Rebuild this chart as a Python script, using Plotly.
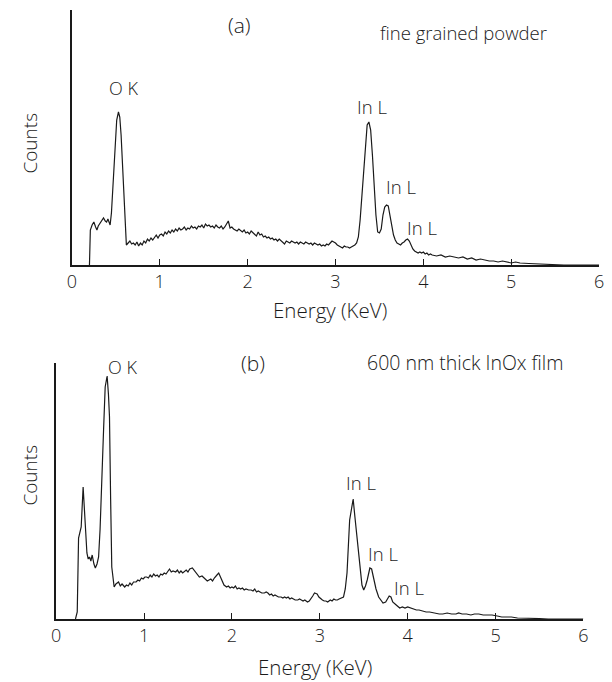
import plotly.graph_objects as go

# EDX spectra (arbitrary count units)
energy_a = [0.20, 0.21, 0.23, 0.25, 0.27, 0.285, 0.30, 0.32, 0.34, 0.36, 0.38, 0.395, 0.41, 0.435,
            0.45, 0.47, 0.49, 0.51, 0.53, 0.545, 0.56, 0.575, 0.59, 0.605, 0.62, 0.64, 0.66, 0.68,
            0.70, 0.72, 0.74, 0.76, 0.78, 0.80, 0.82, 0.84, 0.86, 0.88, 0.90, 0.92, 0.94, 0.96,
            0.98, 1.00, 1.02, 1.04, 1.06, 1.08, 1.10, 1.12, 1.14, 1.16, 1.18, 1.20, 1.22, 1.24,
            1.26, 1.28, 1.30, 1.32, 1.34, 1.36, 1.38, 1.40, 1.42, 1.44, 1.46, 1.48, 1.50, 1.52,
            1.54, 1.56, 1.58, 1.60, 1.62, 1.64, 1.66, 1.68, 1.70, 1.72, 1.74, 1.76, 1.78, 1.80,
            1.82, 1.84, 1.86, 1.88, 1.90, 1.92, 1.94, 1.96, 1.98, 2.00, 2.02, 2.04, 2.06, 2.08,
            2.10, 2.12, 2.14, 2.16, 2.18, 2.20, 2.22, 2.24, 2.26, 2.28, 2.30, 2.32, 2.34, 2.36,
            2.38, 2.40, 2.42, 2.44, 2.46, 2.48, 2.50, 2.52, 2.54, 2.56, 2.58, 2.60, 2.62, 2.64,
            2.66, 2.68, 2.70, 2.72, 2.74, 2.76, 2.78, 2.80, 2.82, 2.84, 2.86, 2.88, 2.90, 2.92,
            2.94, 2.96, 2.98, 3.00, 3.02, 3.04, 3.06, 3.08, 3.10, 3.12, 3.14, 3.16, 3.18, 3.20,
            3.22, 3.24, 3.26, 3.28, 3.30, 3.32, 3.34, 3.36, 3.38, 3.40, 3.42, 3.44, 3.46, 3.48,
            3.50, 3.52, 3.54, 3.56, 3.58, 3.60, 3.62, 3.64, 3.66, 3.68, 3.70, 3.72, 3.74, 3.76,
            3.78, 3.80, 3.82, 3.84, 3.86, 3.88, 3.90, 3.92, 3.94, 3.96, 3.98, 4.00, 4.02, 4.04,
            4.06, 4.08, 4.10, 4.15, 4.20, 4.25, 4.30, 4.35, 4.40, 4.45, 4.50, 4.55, 4.60, 4.65,
            4.70, 4.75, 4.80, 4.85, 4.90, 4.95, 5.00, 5.05, 5.10, 5.20, 5.30, 5.40, 5.50, 5.60,
            6.00]
counts_a = [0, 35, 40, 43, 38, 35, 39, 42, 45, 47, 44, 43, 46, 40,
            52, 80, 110, 145, 153, 148, 130, 100, 65, 35, 20, 22, 24, 21,
            22, 20, 23, 19, 22, 20, 24, 22, 26, 24, 27, 25, 28, 30,
            27, 30, 31, 29, 33, 31, 34, 32, 35, 33, 36, 34, 37, 35,
            36, 38, 35, 37, 36, 39, 37, 38, 36, 39, 38, 40, 37, 41,
            39, 40, 38, 39, 37, 40, 38, 37, 39, 36, 38, 41, 44, 37,
            38, 36, 35, 34, 36, 34, 33, 35, 32, 33, 31, 34, 32, 30,
            29, 33, 30, 31, 28, 29, 27, 28, 26, 27, 25, 26, 24, 26,
            24, 22, 21, 24, 23, 22, 24, 23, 22, 23, 21, 23, 22, 21,
            23, 22, 21, 22, 20, 22, 21, 20, 21, 19, 20, 19, 21, 20,
            22, 24, 23, 22, 20, 19, 18, 17, 19, 18, 18, 17, 18, 19,
            20, 22, 28, 45, 70, 100, 125, 140, 143, 135, 110, 78, 50, 33,
            32, 36, 50, 58, 60, 59, 50, 40, 30, 25, 22, 21, 20, 22,
            23, 25, 26, 24, 20, 16, 14, 13, 12, 13, 12, 13, 11, 12,
            10, 11, 10, 9, 10, 8, 9, 8, 7, 8, 6, 7, 5, 6,
            5, 4, 4, 3, 4, 3, 2, 3, 2, 1.5, 1, 0.5, 0.5, 0,
            0]

energy_b = [0.22, 0.24, 0.255, 0.27, 0.285, 0.307, 0.33, 0.35, 0.365, 0.38, 0.395, 0.41, 0.43,
            0.446, 0.465, 0.483, 0.50, 0.52, 0.54, 0.558, 0.58, 0.595, 0.607, 0.62, 0.633, 0.66,
            0.68, 0.71, 0.73, 0.75, 0.78, 0.80, 0.82, 0.84, 0.86, 0.88, 0.91, 0.93, 0.95, 0.97,
            0.99, 1.01, 1.03, 1.05, 1.07, 1.09, 1.11, 1.13, 1.15, 1.17, 1.19, 1.21, 1.23, 1.25,
            1.27, 1.29, 1.31, 1.33, 1.36, 1.38, 1.40, 1.42, 1.44, 1.46, 1.48, 1.50, 1.52, 1.55,
            1.57, 1.59, 1.61, 1.63, 1.66, 1.68, 1.70, 1.72, 1.74, 1.76, 1.78, 1.80, 1.83, 1.85,
            1.87, 1.89, 1.91, 1.94, 1.96, 1.98, 2.00, 2.02, 2.04, 2.06, 2.08, 2.10, 2.12, 2.14,
            2.16, 2.19, 2.22, 2.24, 2.26, 2.28, 2.30, 2.32, 2.34, 2.37, 2.39, 2.41, 2.43, 2.45,
            2.47, 2.49, 2.51, 2.53, 2.56, 2.58, 2.60, 2.62, 2.64, 2.66, 2.68, 2.70, 2.72, 2.75,
            2.77, 2.79, 2.81, 2.83, 2.86, 2.88, 2.90, 2.92, 2.94, 2.97, 2.99, 3.01, 3.03, 3.05,
            3.07, 3.09, 3.12, 3.14, 3.16, 3.18, 3.20, 3.22, 3.24, 3.27, 3.29, 3.31, 3.34, 3.36,
            3.38, 3.40, 3.42, 3.44, 3.46, 3.48, 3.50, 3.52, 3.54, 3.57, 3.59, 3.61, 3.64, 3.67,
            3.70, 3.72, 3.75, 3.77, 3.79, 3.81, 3.83, 3.87, 3.91, 3.94, 3.97, 4.00, 4.03, 4.06,
            4.10, 4.13, 4.17, 4.21, 4.25, 4.29, 4.32, 4.36, 4.40, 4.45, 4.50, 4.55, 4.58, 4.62,
            4.67, 4.72, 4.76, 4.81, 4.86, 4.91, 4.96, 5.02, 5.07, 5.11, 5.18, 5.25, 5.33, 5.41,
            5.50, 5.60, 6.00]
counts_b = [0, 7, 81, 88, 92, 132, 102, 66, 60, 62, 58, 64, 55,
            51, 55, 62, 90, 132, 190, 232, 243, 225, 202, 120, 52, 32,
            35, 37, 33, 35, 32, 34, 33, 36, 34, 37, 37, 39, 38, 41,
            40, 42, 42, 41, 44, 42, 45, 43, 44, 42, 45, 44, 46, 45,
            48, 50, 47, 48, 47, 49, 46, 48, 46, 48, 49, 47, 50, 51,
            49, 47, 45, 42, 43, 41, 40, 38, 39, 40, 38, 41, 44, 46,
            42, 38, 34, 32, 33, 31, 32, 31, 33, 30, 31, 30, 31, 29,
            30, 29, 29, 28, 30, 27, 28, 27, 26, 26, 27, 26, 24, 25,
            23, 24, 23, 22, 22, 21, 22, 21, 22, 20, 21, 20, 19, 19,
            20, 19, 18, 19, 17, 18, 20, 23, 26, 25, 22, 20, 19, 18,
            18, 17, 19, 18, 20, 19, 19, 20, 21, 22, 30, 46, 99, 112,
            120, 102, 85, 62, 45, 34, 29, 33, 39, 51, 50, 42, 30, 22,
            18, 16, 17, 20, 23, 22, 17, 14, 11, 12, 11, 12, 11, 10,
            9, 9, 8, 7, 7, 6, 6, 5, 5, 6, 5, 5, 6, 5,
            5, 4, 5, 5, 4, 4, 4, 3, 2, 2, 2, 1, 1, 1,
            0.5, 0, 0]

tick_values = [0, 1, 2, 3, 4, 5, 6]
tick_labels = ["0", "1", "2", "3", "4", "5", "6"]

W, H = 612, 682
INK = "#1a1a1a"
FONT = "Open Sans"
WEIGHT = 300


def px(x):
    return x / W


def py(y):
    return 1 - y / H


fig = go.Figure()
fig.add_trace(go.Scatter(x=energy_a, y=counts_a, mode="lines",
                         line=dict(color=INK, width=1.2), xaxis="x", yaxis="y",
                         showlegend=False, hoverinfo="skip"))
fig.add_trace(go.Scatter(x=energy_b, y=counts_b, mode="lines",
                         line=dict(color=INK, width=1.2), xaxis="x2", yaxis="y2",
                         showlegend=False, hoverinfo="skip"))

xaxis_common = dict(range=[0, 6], tickvals=tick_values, ticktext=tick_labels,
                    ticks="inside", ticklen=6, tickwidth=1.3, tickcolor=INK,
                    showline=True, linecolor=INK, linewidth=1.5,
                    showgrid=False, zeroline=False,
                    tickfont=dict(family=FONT, size=18, color=INK, weight=WEIGHT))
yaxis_common = dict(showline=True, linecolor=INK, linewidth=1.5, showgrid=False,
                    zeroline=False, showticklabels=False, ticks="")

fig.update_layout(
    width=W, height=H,
    margin=dict(l=0, r=0, t=0, b=0),
    paper_bgcolor="white", plot_bgcolor="white",
    xaxis=dict(domain=[px(68), px(604)], anchor="y", **xaxis_common),
    yaxis=dict(domain=[py(265), py(10)], anchor="x", range=[0, 255], **yaxis_common),
    xaxis2=dict(domain=[px(52), px(588)], anchor="y2", **xaxis_common),
    yaxis2=dict(domain=[py(619), py(363)], anchor="x2", range=[0, 256], **yaxis_common),
)

labels = [
    ("(a)", 238, 25, 21, 0),
    ("fine grained powder", 466, 33, 18.5, 0),
    ("O K", 120, 88, 18, 0),
    ("In L", 373, 107, 18.5, 0),
    ("In L", 403, 187, 18.5, 0),
    ("In L", 424, 228, 18.5, 0),
    ("Counts", 25, 143, 19, -90),
    ("Energy (KeV)", 330, 310, 20.5, 0),
    ("(b)", 252, 363, 21, 0),
    ("600 nm thick InOx film", 468, 362, 19.5, 0),
    ("O K", 119, 367, 18, 0),
    ("In L", 362, 482, 18.5, 0),
    ("In L", 384, 553, 18.5, 0),
    ("In L", 411, 587, 18.5, 0),
    ("Counts", 25, 475, 19, -90),
    ("Energy (KeV)", 315, 667, 20.5, 0),
]
for text, x, y, size, angle in labels:
    fig.add_annotation(text=text, x=px(x), y=py(y), xref="paper", yref="paper",
                       xanchor="center", yanchor="middle", showarrow=False,
                       textangle=angle,
                       font=dict(family=FONT, size=size, color=INK, weight=WEIGHT))

fig.write_html("out.html")
